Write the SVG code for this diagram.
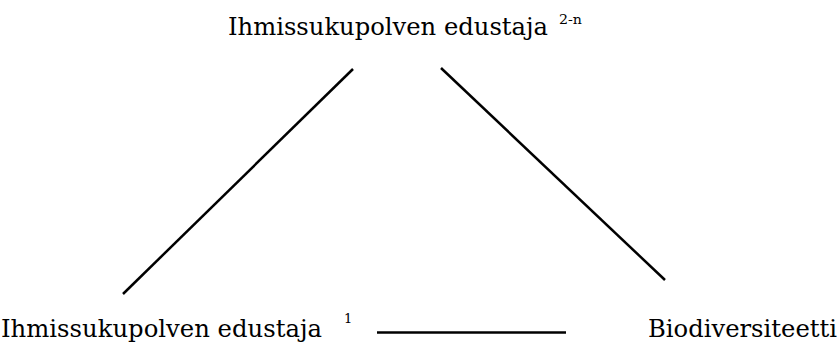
<svg xmlns="http://www.w3.org/2000/svg" width="839" height="343" viewBox="0 0 839 343">
<style>
text{font-family:"DejaVu Serif",serif;fill:#000;}
.lbl{font-size:24px;}
.sup{font-size:13px;}
.c{stroke:#000;stroke-width:2.5;fill:none;}
</style>
<rect width="839" height="343" fill="#fff"/>
<g id="connectors">
<line class="c" x1="353" y1="69" x2="123" y2="294"/>
<line class="c" x1="441" y1="68" x2="665" y2="280"/>
<line class="c" x1="377" y1="332.5" x2="566" y2="332.5"/>
</g>
<g id="node-top">
<text class="lbl" x="228" y="34.5" textLength="320" lengthAdjust="spacingAndGlyphs">Ihmissukupolven edustaja</text>
<text class="sup" x="559" y="24" textLength="23" lengthAdjust="spacingAndGlyphs">2-n</text>
</g>
<g id="node-left">
<text class="lbl" x="1" y="337" textLength="321" lengthAdjust="spacingAndGlyphs">Ihmissukupolven edustaja</text>
<text class="sup" x="344" y="323">1</text>
</g>
<g id="node-right">
<text class="lbl" x="648" y="337" textLength="189" lengthAdjust="spacingAndGlyphs">Biodiversiteetti</text>
</g>
</svg>
